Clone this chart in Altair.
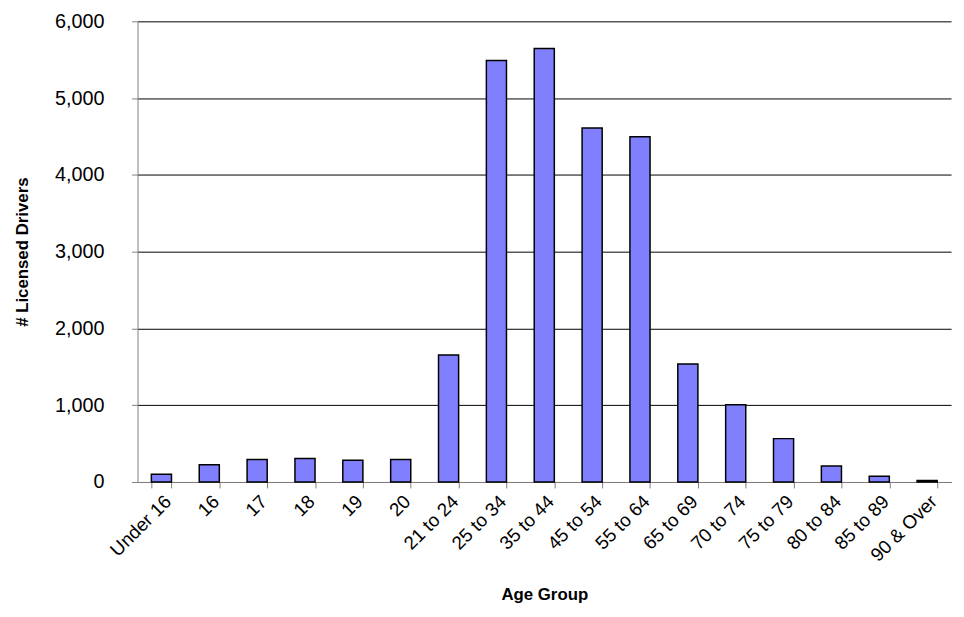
import pandas as pd
import altair as alt

groups = ["Under 16", "16", "17", "18", "19", "20", "21 to 24", "25 to 34", "35 to 44",
          "45 to 54", "55 to 64", "65 to 69", "70 to 74", "75 to 79", "80 to 84",
          "85 to 89", "90 & Over"]
drivers = [100, 225, 293, 306, 284, 293, 1654, 5490, 5646, 4612, 4496, 1537, 1005,
           565, 207, 74, 20]

df = pd.DataFrame({"group": groups, "drivers": drivers})

chart = (alt.Chart(df)
    .mark_bar(color="#8080ff", stroke="black", strokeWidth=1.5)
    .encode(
        alt.X("group:N", sort=groups, title="Age Group",
              scale=alt.Scale(paddingInner=0.58, paddingOuter=0.29),
              axis=alt.Axis(labelAngle=-45, tickBand="extent", grid=False,
                            labelFontSize=19, titlePadding=22,
                            domainColor="#808080", tickColor="#808080")),
        alt.Y("drivers:Q", title="# Licensed Drivers",
              scale=alt.Scale(domain=[0, 6000]),
              axis=alt.Axis(values=list(range(0, 6001, 1000)), format=",d",
                            gridColor="black", gridOpacity=1, titlePadding=23,
                            labelPadding=28, labelFontSize=20,
                            domainColor="#808080", tickColor="#808080")))
    .properties(width=823, height=466, padding={"top": 0, "left": 5, "right": 5, "bottom": 5})
    .configure_axis(labelFont="Liberation Sans", labelFontSize=18, labelColor="black",
                    titleFont="Liberation Sans", titleFontSize=17, titleColor="black",
                    titleFontWeight="bold", tickSize=6, labelPadding=4)
    .configure_view(stroke=None))

chart.save("out.html", embed_options={"renderer": "svg", "actions": False})
